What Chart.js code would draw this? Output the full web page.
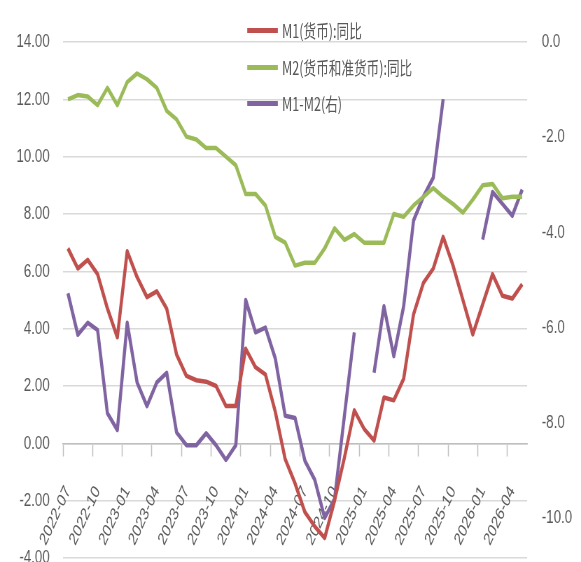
<!DOCTYPE html>
<html lang="zh">
<head>
<meta charset="utf-8">
<title>M1 / M2 同比</title>
<script src="https://cdn.jsdelivr.net/npm/chart.js@4.4.1/dist/chart.umd.min.js"></script>
<style>
  html, body { margin: 0; padding: 0; background: #fff; overflow: hidden; }
  /* el original está comprimido en horizontal: se dibuja a 830px y se encoge a 581px */
  #lienzo { position: relative; width: 830px; height: 562px; transform: scaleX(0.7); transform-origin: 0 0; }
  #grafico { display: block; }
  .leyenda { position: absolute; left: 353px; top: 0; font-family: "Noto Sans CJK SC", sans-serif; font-size: 18px; color: #595959; }
  .item { position: absolute; left: 0; height: 24px; display: flex; align-items: center; white-space: nowrap; line-height: 1; }
  .item i { display: inline-block; width: 44px; height: 5px; margin-right: 6px; }
</style>
</head>
<body>
<div id="lienzo">
  <canvas id="grafico" width="830" height="562"></canvas>
  <div class="leyenda" id="leyenda"></div>
</div>
<script>
// ===================== DATOS =====================

const meses = [
  "2022-07","2022-08","2022-09","2022-10","2022-11","2022-12",
  "2023-01","2023-02","2023-03","2023-04","2023-05","2023-06",
  "2023-07","2023-08","2023-09","2023-10","2023-11","2023-12",
  "2024-01","2024-02","2024-03","2024-04","2024-05","2024-06",
  "2024-07","2024-08","2024-09","2024-10","2024-11","2024-12",
  "2025-01","2025-02","2025-03","2025-04","2025-05","2025-06",
  "2025-07","2025-08","2025-09","2025-10","2025-11","2025-12",
  "2026-01","2026-02","2026-03","2026-04","2026-05",
];

// M1(货币):同比 (eje izquierdo)
const m1 = [
  6.8, 6.1, 6.4, 5.9, 4.7, 3.7,
  6.7, 5.8, 5.1, 5.3, 4.7, 3.1,
  2.35, 2.2, 2.15, 2.0, 1.3, 1.3,
  3.3, 2.65, 2.4, 1.1, -0.55, -1.4,
  -2.4, -2.9, -3.3, -2.0, -0.5, 1.15,
  0.5, 0.1, 1.6, 1.5, 2.25, 4.5,
  5.6, 6.1, 7.2, 6.2, 5.0, 3.8,
  4.85, 5.9, 5.15, 5.05, 5.55,
];

// M2(货币和准货币):同比 (eje izquierdo)
const m2 = [
  12.0, 12.15, 12.1, 11.8, 12.4, 11.8,
  12.6, 12.9, 12.7, 12.4, 11.6, 11.3,
  10.7, 10.6, 10.3, 10.3, 10.0, 9.7,
  8.7, 8.7, 8.3, 7.2, 7.0, 6.2,
  6.3, 6.3, 6.8, 7.5, 7.1, 7.3,
  7.0, 7.0, 7.0, 8.0, 7.9, 8.3,
  8.6, 8.9, 8.6, 8.35, 8.05, 8.5,
  9.0, 9.05, 8.55, 8.6, 8.6,
];

// M1-M2 (eje derecho), con huecos
const m1m2 = [
  -5.28, -6.15, -5.9, -6.05, -7.8, -8.15,
  -5.9, -7.15, -7.65, -7.15, -6.95, -8.2,
  -8.47, -8.47, -8.22, -8.47, -8.78, -8.47,
  -5.42, -6.1, -6.0, -6.65, -7.85, -7.9,
  -8.8, -9.2, -10.0, -9.6, -7.85, -6.1,
  null, -6.95, -5.55, -6.6, -5.55, -3.75,
  -3.25, -2.85, -1.2, null, null, null,
  -4.15, -3.15, -3.4, -3.65, -3.1,
];

const ticksIzq = [-4, -2, 0, 2, 4, 6, 8, 10, 12, 14];
const ticksDer = [0, -2, -4, -6, -8, -10];

const nombres = ["M1(货币):同比", "M2(货币和准货币):同比", "M1-M2(右)"];
const colores = ["#C0504D", "#9BBB59", "#8064A2"];
const ejes    = ["y", "y", "y1"];

const fuenteEjes  = { family: "'Liberation Sans', Arial, sans-serif", size: 19 };
const fuenteMeses = { family: "'Liberation Sans', Arial, sans-serif", size: 18 };
const grisTexto   = "#595959";

// ===================== LEYENDA =====================

function renderLeyenda() {
  const cont = document.getElementById("leyenda");
  const filas = [18, 55, 91];
  cont.innerHTML = nombres.map((n, i) =>
    `<div class="item" style="top:${filas[i]}px"><i style="background:${colores[i]}"></i>${n}</div>`
  ).join("");
}

// ===================== GRÁFICO =====================

function renderGrafico() {
  const canvas = document.getElementById("grafico");
  const series = [m1, m2, m1m2];

  new Chart(canvas.getContext("2d"), {
    type: "line",
    data: {
      labels: meses,
      datasets: series.map((d, i) => ({
        label: nombres[i],
        data: d,
        yAxisID: ejes[i],
        borderColor: colores[i],
        backgroundColor: colores[i],
        borderWidth: 4.5,
        pointRadius: 0,
        tension: 0,
        spanGaps: false,
        borderJoinStyle: "round",
      })),
    },
    options: {
      responsive: false,
      animation: false,
      layout: { padding: { left: 0, right: 0, top: 42, bottom: 4 } },
      plugins: { legend: { display: false }, tooltip: { enabled: false } },
      scales: {
        x: {
          type: "category",
          offset: true,
          position: { y: 0 },
          grid: {
            drawOnChartArea: false,
            offset: true,
            tickLength: 12,
            tickWidth: 1.5,
            tickColor: c => (c.index % 3 === 0 ? "#bfbfbf" : "rgba(0,0,0,0)"),
          },
          border: { display: true, color: "#bfbfbf", width: 1.5 },
          ticks: {
            autoSkip: false,
            minRotation: 57,
            maxRotation: 57,
            padding: 27,
            color: grisTexto,
            font: fuenteMeses,
            callback: (v, i) => (i % 3 === 0 ? meses[i] : ""),
          },
        },
        y: {
          position: "left",
          min: -4,
          max: 14,
          afterBuildTicks: s => { s.ticks = ticksIzq.map(v => ({ value: v })); },
          afterFit: s => { s.width = 90; s.paddingTop = 0; s.paddingBottom = 0; },
          grid: { color: "#d9d9d9", lineWidth: 1.5, drawTicks: false },
          border: { display: false },
          ticks: { padding: 19, color: grisTexto, font: fuenteEjes, callback: v => v.toFixed(2) },
        },
        y1: {
          position: "right",
          min: -10.84,
          max: 0,
          afterBuildTicks: s => { s.ticks = ticksDer.map(v => ({ value: v })); },
          afterFit: s => { s.width = 77; s.paddingTop = 0; s.paddingBottom = 0; },
          grid: { drawOnChartArea: false, drawTicks: false },
          border: { display: false },
          ticks: { padding: 21, color: grisTexto, font: fuenteEjes, callback: v => v.toFixed(1) },
        },
      },
    },
  });
}

renderLeyenda();
renderGrafico();
</script>
</body>
</html>
